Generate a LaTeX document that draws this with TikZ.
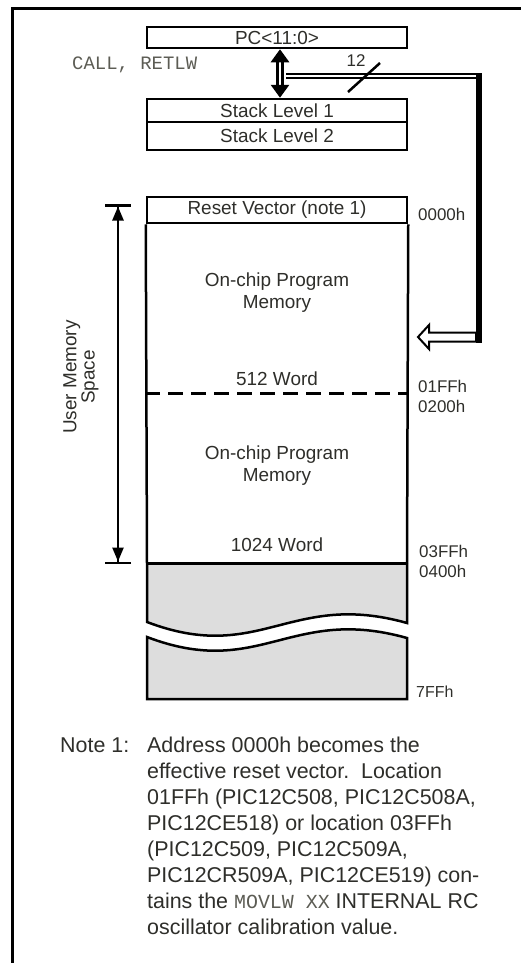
\documentclass[tikz,border=0pt]{standalone}
\usepackage{fontspec}
\setmainfont{Liberation Sans}
\setmonofont{Liberation Mono}
\definecolor{ink}{HTML}{2E2E2A}
\definecolor{inkmono}{HTML}{5C5C54}
\definecolor{greyfill}{HTML}{DDDDDD}
\usetikzlibrary{arrows.meta}

\begin{document}
\begin{tikzpicture}[x=1bp,y=-1bp,>=Stealth,line join=miter,
  every node/.style={font=\fontsize{19}{22}\selectfont,text=ink,inner sep=0pt},
  cell/.style={draw=black,line width=2.5bp,rectangle,minimum width=260bp},
  addr/.style={anchor=west,font=\fontsize{17}{20}\selectfont}]
\useasboundingbox (0,0) rectangle (521,963);
\draw[line width=3bp] (12,975) -- (12,8) -- (535,8);
\node[cell,minimum height=21bp] (A) at (277,37.5) {PC<11:0>};
\node[cell,minimum height=23bp] (B) at (277,110.5) {Stack Level 1};
\node[cell,minimum height=28bp] (C) at (277,136) {Stack Level 2};
\node[anchor=west,text=inkmono,font=\ttfamily\fontsize{19}{22}\selectfont] (L) at (72,65) {CALL, RETLW};
\draw[line width=3bp,double=white,double distance=2bp,
  {Triangle[length=13bp,width=18bp]}-{Triangle[length=13bp,width=18bp]}]
  ([xshift=3bp]A.south) -- ([xshift=3bp]B.north);
% 12 bit path back into program memory
\coordinate (T) at (286,76);
\coordinate (K) at (482,76);
\coordinate (H) at (418,337);
\draw[line width=6bp] (T) -- (K);
\draw[white,line width=1.5bp] (T) -- (476,76);
\draw[line width=2bp,fill=white] (H) -- (429,325) -- (429,332.5) -- (476,332.5)
  -- (476,341.5) -- (429,341.5) -- (429,349) -- cycle;
\draw[line width=6bp] (479,73) -- (479,342.5);
\draw[line width=2.5bp] (348,92) -- (380,63);
\node[font=\fontsize{17}{18}\selectfont] (N) at (356,61) {12};
% user memory space
\coordinate (U1) at (118,204);
\coordinate (U2) at (118,564);
\draw[line width=2.5bp,{Bar[width=26bp]Triangle[length=14bp,width=11bp]}-{Triangle[length=14bp,width=11bp]Bar[width=26bp]}] (U1) -- (U2);
\node[rotate=90,align=center,font=\fontsize{19}{17}\selectfont] (U) at (81,377) {User Memory\\Space};
% memory map
\node[cell,minimum height=26bp] (D) at (277,210) {Reset Vector (note 1)};
\draw[line width=2.5bp] (D.south west) -- (147,563) (D.south east) -- (407,563);
\draw[line width=3bp,dash pattern=on 15bp off 8bp] (145,393) -- (407,393);
\fill[greyfill] (147,563) -- (407,563) -- (407,623) .. controls (290,590) and (260,665) .. (147,622) -- cycle;
\draw[line width=2.5bp] (147,563) -- (147,622) .. controls (260,665) and (290,590) .. (407,623) -- (407,563);
\draw[line width=3bp] (145.75,563) -- (408.25,563);
\draw[line width=2.5bp,fill=greyfill] (147,637) .. controls (260,680) and (290,605) .. (407,638) -- (407,699) -- (147,699) -- cycle;
\node[anchor=base,align=center,font=\fontsize{19}{22}\selectfont] (E) at (277,308) {On-chip Program\\Memory};
\node[anchor=base] (F) at (277,385) {512 Word};
\node[anchor=base,align=center,font=\fontsize{19}{22}\selectfont] (G) at (277,481) {On-chip Program\\Memory};
\node[anchor=base] (J) at (277,551) {1024 Word};
\node[addr] (a0) at (418,214) {0000h};
\node[addr] (a1) at (418,386) {01FFh};
\node[addr] (a2) at (418,406.5) {0200h};
\node[addr] (a3) at (419,551) {03FFh};
\node[addr] (a4) at (419,571.5) {0400h};
\node[addr,font=\fontsize{16}{18}\selectfont] (a5) at (416,692) {7FFh};
% note
\node[anchor=base west,font=\fontsize{21.5}{26}\selectfont] (P) at (60,752) {Note 1:};
\node[anchor=base west,align=left,font=\fontsize{21.5}{26}\selectfont] (Q) at (147,934) {Address 0000h becomes the\\
effective reset vector.\ \ Location\\
01FFh (PIC12C508, PIC12C508A,\\
PIC12CE518) or location 03FFh\\
(PIC12C509, PIC12C509A,\\
PIC12CR509A, PIC12CE519) con-\\
tains the {\color{inkmono}\ttfamily\fontsize{20}{26}\selectfont MOVLW XX} INTERNAL RC\\
oscillator calibration value.};
\end{tikzpicture}
\end{document}
